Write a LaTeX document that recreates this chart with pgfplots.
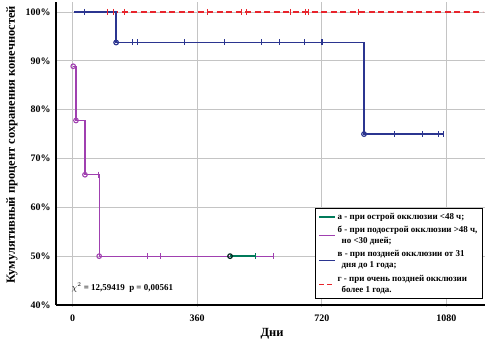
\documentclass[border=0pt]{standalone}
\usepackage{pgfplots}
\pgfplotsset{compat=1.18}
\usepackage{fontspec}
\setmainfont{Liberation Serif}
\definecolor{cgreen}{HTML}{007A5A}
\definecolor{cpink}{HTML}{A040B0}
\definecolor{cblue}{HTML}{2B3590}
\definecolor{cred}{HTML}{E8242C}
\definecolor{cgrid}{HTML}{C4C4C4}
\begin{document}
\begin{tikzpicture}
\path[use as bounding box] (0,0) rectangle (504bp,349bp);
\begin{axis}[
  at={(56bp,44bp)}, anchor=south west,
  scale only axis, width=429bp, height=302.8bp,
  xmin=-47.7, xmax=1191.5, ymin=40, ymax=102,
  axis x line=bottom, axis y line=left,
  axis line style={line width=1.6pt, black, -},
  xtick={0,360,720,1080}, ytick={40,50,60,70,80,90,100},
  xticklabel={\pgfmathprintnumber[1000 sep={}]{\tick}},
  yticklabel={\pgfmathprintnumber{\tick}\%},
  /pgf/number format/assume math mode=true,
  ticklabel style={font=\bfseries\fontsize{10}{12}\selectfont},
  xticklabel style={yshift=-4bp},
  tick style={draw=cgrid, line width=0.8pt},
  major tick length=4bp,
  ytick style={draw=none},
  grid=major, major grid style={draw=cgrid, line width=0.8pt},
  legend cell align=left,
  legend image code/.code={\draw[#1] (0cm,0cm) -- (0.55cm,0cm);},
  legend style={at={(0.995,0.02)}, anchor=south east, draw=black, line width=0.8pt,
    font=\bfseries\fontsize{9}{11}\selectfont, nodes={align=left},
    row sep=1.5bp, inner sep=3pt},
  clip=false,
]
\addlegendimage{cgreen, line width=2.2pt}
\addlegendentry{а - при острой окклюзии <48 ч;}
\addlegendimage{cpink, line width=1pt}
\addlegendentry{б - при подострой окклюзии >48 ч,\\\hspace*{4pt}но <30 дней;}
\addlegendimage{cblue, line width=1pt}
\addlegendentry{в - при поздней окклюзии от 31\\\hspace*{4pt}дня до 1 года;}
\addlegendimage{cred, line width=1pt, dash pattern=on 5bp off 3bp}
\addlegendentry{г - при очень поздней окклюзии\\\hspace*{4pt}более 1 года.}
% red
\addplot[forget plot, cred, line width=1.1pt, dash pattern=on 6bp off 3.5bp] coordinates {(5,100) (1185,100)};
\addplot[forget plot, only marks, cred, mark=|, mark size=3bp, mark options={line width=0.8pt, solid}] coordinates {
(100,100) (117,100) (149,100) (389,100) (487,100) (503,100) (628,100) (674,100) (680,100) (825,100)};
% blue
\addplot[forget plot, cblue, line width=1.3pt] coordinates {(5,100) (126,100) (126,93.75) (842,93.75) (842,75) (1070,75)};
\addplot[forget plot, only marks, cblue, mark=|, mark size=3bp, mark options={line width=0.8pt}] coordinates {
(34,100) (172,93.75) (186,93.75) (322,93.75) (438,93.75) (547,93.75) (599,93.75) (671,93.75) (718,93.75) (722,93.75)
(929,75) (1010,75) (1058,75) (1070,75)};
\addplot[forget plot, only marks, cblue, mark=o, mark size=2.3bp, mark options={line width=1.2pt}] coordinates {(126,93.75) (842,75)};
% pink
\addplot[forget plot, cpink, line width=1.1pt] coordinates {(2,88.89) (10,88.89) (10,77.78) (36,77.78) (36,66.67) (77,66.67) (77,50) (580,50)};
\addplot[forget plot, only marks, cpink, mark=|, mark size=3bp, mark options={line width=0.8pt}] coordinates {
(74,66.67) (215,50) (255,50) (580,50)};
\addplot[forget plot, only marks, cpink, mark=o, mark size=2.3bp, mark options={line width=1.1pt, fill=white}] coordinates {(2,88.89) (10,77.78) (36,66.67) (77,50)};
% green
\addplot[forget plot, cgreen, line width=2pt] coordinates {(455,50) (529,50)};
\addplot[forget plot, only marks, cgreen, mark=|, mark size=3bp, mark options={line width=0.8pt}] coordinates {(529,50)};
\addplot[forget plot, only marks, black!70!cgreen, mark=o, mark size=2.3bp, mark options={line width=1.2pt}] coordinates {(455,50)};
\node[anchor=west, font=\bfseries\fontsize{9}{10}\selectfont, inner sep=0pt] at (axis cs:-3,43.5) {$\chi^2$ = 12,59419\ \ p = 0,00561};
\end{axis}
\node[rotate=90, font=\bfseries\fontsize{12.5}{14}\selectfont] at (12bp,204bp) {Кумулятивный процент сохранения конечностей};
\node[font=\bfseries\fontsize{12.5}{14}\selectfont] at (272bp,15bp) {Дни};
\end{tikzpicture}
\end{document}
